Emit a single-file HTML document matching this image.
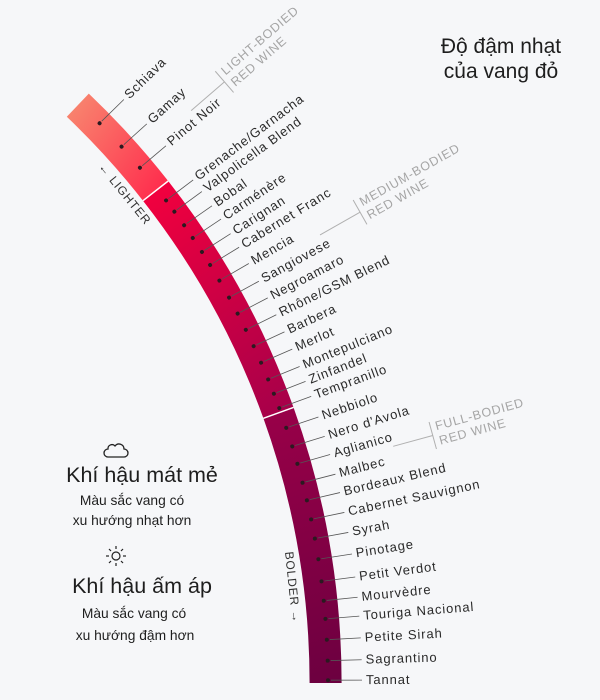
<!DOCTYPE html>
<html><head><meta charset="utf-8"><style>
html,body{margin:0;padding:0;background:#f6f7f9;}
svg{display:block;}
.lb{font-family:"Liberation Sans","Noto Sans CJK SC",sans-serif;font-size:13px;fill:#2a2a2a;letter-spacing:0.9px;}
.br{font-family:"Liberation Sans",sans-serif;font-size:12.5px;fill:#a5a5a5;letter-spacing:0.8px;}
.vt{font-family:"Liberation Sans","Noto Sans CJK SC",sans-serif;fill:#1e1e1e;}
</style></head><body>
<svg width="600" height="700" viewBox="0 0 600 700" xmlns="http://www.w3.org/2000/svg">
<defs>
<linearGradient id="g1" gradientUnits="userSpaceOnUse" x1="65" y1="110" x2="170" y2="185"><stop offset="0" stop-color="#f8866f"/><stop offset="1" stop-color="#ff2a4c"/></linearGradient>
<linearGradient id="g2" gradientUnits="userSpaceOnUse" x1="140" y1="190" x2="300" y2="410"><stop offset="0" stop-color="#f4003e"/><stop offset="1" stop-color="#a4004a"/></linearGradient>
<linearGradient id="g3" gradientUnits="userSpaceOnUse" x1="260" y1="420" x2="345" y2="680"><stop offset="0" stop-color="#980048"/><stop offset="1" stop-color="#6c0040"/></linearGradient>
</defs>
<rect width="600" height="700" fill="#f6f7f9"/>
<path d="M88.8 93.6 A813.6 813.6 0 0 1 168.2 181.0 L143.0 200.7 A781.6 781.6 0 0 0 66.8 116.8 Z" fill="url(#g1)"/>
<path d="M168.2 181.0 A813.6 813.6 0 0 1 293.5 407.4 L263.4 418.3 A781.6 781.6 0 0 0 143.0 200.7 Z" fill="url(#g2)"/>
<path d="M293.5 407.4 A813.6 813.6 0 0 1 341.6 683 L309.6 683 A781.6 781.6 0 0 0 263.4 418.3 Z" fill="url(#g3)"/>
<line x1="143.0" y1="200.7" x2="168.2" y2="181.0" stroke="#fff" stroke-width="1.5"/>
<line x1="263.4" y1="418.3" x2="293.5" y2="407.4" stroke="#fff" stroke-width="1.5"/>

<g id="labels">
<g transform="rotate(-44.4 -472 683)"><circle cx="328" cy="683" r="2" fill="#2a1a20"/><line x1="331" y1="683" x2="362" y2="683" stroke="#555" stroke-width="0.8"/><text class="lb" x="366" y="687">Schiava</text></g>
<g transform="rotate(-42.1 -472 683)"><circle cx="328" cy="683" r="2" fill="#2a1a20"/><line x1="331" y1="683" x2="362" y2="683" stroke="#555" stroke-width="0.8"/><text class="lb" x="366" y="687">Gamay</text></g>
<g transform="rotate(-40.1 -472 683)"><circle cx="328" cy="683" r="2" fill="#2a1a20"/><line x1="331" y1="683" x2="362" y2="683" stroke="#555" stroke-width="0.8"/><text class="lb" x="366" y="687">Pinot Noir</text></g>
<g transform="rotate(-37.1 -472 683)"><circle cx="328" cy="683" r="2" fill="#2a1a20"/><line x1="331" y1="683" x2="362" y2="683" stroke="#555" stroke-width="0.8"/><text class="lb" x="366" y="687">Grenache/Garnacha</text></g>
<g transform="rotate(-36.1 -472 683)"><circle cx="328" cy="683" r="2" fill="#2a1a20"/><line x1="331" y1="683" x2="362" y2="683" stroke="#555" stroke-width="0.8"/><text class="lb" x="366" y="687">Valpolicella Blend</text></g>
<g transform="rotate(-34.9 -472 683)"><circle cx="328" cy="683" r="2" fill="#2a1a20"/><line x1="331" y1="683" x2="362" y2="683" stroke="#555" stroke-width="0.8"/><text class="lb" x="366" y="687">Bobal</text></g>
<g transform="rotate(-33.8 -472 683)"><circle cx="328" cy="683" r="2" fill="#2a1a20"/><line x1="331" y1="683" x2="362" y2="683" stroke="#555" stroke-width="0.8"/><text class="lb" x="366" y="687">Carménère</text></g>
<g transform="rotate(-32.6 -472 683)"><circle cx="328" cy="683" r="2" fill="#2a1a20"/><line x1="331" y1="683" x2="362" y2="683" stroke="#555" stroke-width="0.8"/><text class="lb" x="366" y="687">Carignan</text></g>
<g transform="rotate(-31.5 -472 683)"><circle cx="328" cy="683" r="2" fill="#2a1a20"/><line x1="331" y1="683" x2="362" y2="683" stroke="#555" stroke-width="0.8"/><text class="lb" x="366" y="687">Cabernet Franc</text></g>
<g transform="rotate(-30.2 -472 683)"><circle cx="328" cy="683" r="2" fill="#2a1a20"/><line x1="331" y1="683" x2="362" y2="683" stroke="#555" stroke-width="0.8"/><text class="lb" x="366" y="687">Mencia</text></g>
<g transform="rotate(-28.8 -472 683)"><circle cx="328" cy="683" r="2" fill="#2a1a20"/><line x1="331" y1="683" x2="362" y2="683" stroke="#555" stroke-width="0.8"/><text class="lb" x="366" y="687">Sangiovese</text></g>
<g transform="rotate(-27.5 -472 683)"><circle cx="328" cy="683" r="2" fill="#2a1a20"/><line x1="331" y1="683" x2="362" y2="683" stroke="#555" stroke-width="0.8"/><text class="lb" x="366" y="687">Negroamaro</text></g>
<g transform="rotate(-26.2 -472 683)"><circle cx="328" cy="683" r="2" fill="#2a1a20"/><line x1="331" y1="683" x2="362" y2="683" stroke="#555" stroke-width="0.8"/><text class="lb" x="366" y="687">Rhône/GSM Blend</text></g>
<g transform="rotate(-24.9 -472 683)"><circle cx="328" cy="683" r="2" fill="#2a1a20"/><line x1="331" y1="683" x2="362" y2="683" stroke="#555" stroke-width="0.8"/><text class="lb" x="366" y="687">Barbera</text></g>
<g transform="rotate(-23.6 -472 683)"><circle cx="328" cy="683" r="2" fill="#2a1a20"/><line x1="331" y1="683" x2="362" y2="683" stroke="#555" stroke-width="0.8"/><text class="lb" x="366" y="687">Merlot</text></g>
<g transform="rotate(-22.3 -472 683)"><circle cx="328" cy="683" r="2" fill="#2a1a20"/><line x1="331" y1="683" x2="362" y2="683" stroke="#555" stroke-width="0.8"/><text class="lb" x="366" y="687">Montepulciano</text></g>
<g transform="rotate(-21.2 -472 683)"><circle cx="328" cy="683" r="2" fill="#2a1a20"/><line x1="331" y1="683" x2="362" y2="683" stroke="#555" stroke-width="0.8"/><text class="lb" x="366" y="687">Zinfandel</text></g>
<g transform="rotate(-20.1 -472 683)"><circle cx="328" cy="683" r="2" fill="#2a1a20"/><line x1="331" y1="683" x2="362" y2="683" stroke="#555" stroke-width="0.8"/><text class="lb" x="366" y="687">Tempranillo</text></g>
<g transform="rotate(-18.6 -472 683)"><circle cx="328" cy="683" r="2" fill="#2a1a20"/><line x1="331" y1="683" x2="362" y2="683" stroke="#555" stroke-width="0.8"/><text class="lb" x="366" y="687">Nebbiolo</text></g>
<g transform="rotate(-17.2 -472 683)"><circle cx="328" cy="683" r="2" fill="#2a1a20"/><line x1="331" y1="683" x2="362" y2="683" stroke="#555" stroke-width="0.8"/><text class="lb" x="366" y="687">Nero d'Avola</text></g>
<g transform="rotate(-15.9 -472 683)"><circle cx="328" cy="683" r="2" fill="#2a1a20"/><line x1="331" y1="683" x2="362" y2="683" stroke="#555" stroke-width="0.8"/><text class="lb" x="366" y="687">Aglianico</text></g>
<g transform="rotate(-14.5 -472 683)"><circle cx="328" cy="683" r="2" fill="#2a1a20"/><line x1="331" y1="683" x2="362" y2="683" stroke="#555" stroke-width="0.8"/><text class="lb" x="366" y="687">Malbec</text></g>
<g transform="rotate(-13.2 -472 683)"><circle cx="328" cy="683" r="2" fill="#2a1a20"/><line x1="331" y1="683" x2="362" y2="683" stroke="#555" stroke-width="0.8"/><text class="lb" x="366" y="687">Bordeaux Blend</text></g>
<g transform="rotate(-11.8 -472 683)"><circle cx="328" cy="683" r="2" fill="#2a1a20"/><line x1="331" y1="683" x2="362" y2="683" stroke="#555" stroke-width="0.8"/><text class="lb" x="366" y="687">Cabernet Sauvignon</text></g>
<g transform="rotate(-10.4 -472 683)"><circle cx="328" cy="683" r="2" fill="#2a1a20"/><line x1="331" y1="683" x2="362" y2="683" stroke="#555" stroke-width="0.8"/><text class="lb" x="366" y="687">Syrah</text></g>
<g transform="rotate(-8.9 -472 683)"><circle cx="328" cy="683" r="2" fill="#2a1a20"/><line x1="331" y1="683" x2="362" y2="683" stroke="#555" stroke-width="0.8"/><text class="lb" x="366" y="687">Pinotage</text></g>
<g transform="rotate(-7.3 -472 683)"><circle cx="328" cy="683" r="2" fill="#2a1a20"/><line x1="331" y1="683" x2="362" y2="683" stroke="#555" stroke-width="0.8"/><text class="lb" x="366" y="687">Petit Verdot</text></g>
<g transform="rotate(-5.9 -472 683)"><circle cx="328" cy="683" r="2" fill="#2a1a20"/><line x1="331" y1="683" x2="362" y2="683" stroke="#555" stroke-width="0.8"/><text class="lb" x="366" y="687">Mourvèdre</text></g>
<g transform="rotate(-4.6 -472 683)"><circle cx="328" cy="683" r="2" fill="#2a1a20"/><line x1="331" y1="683" x2="362" y2="683" stroke="#555" stroke-width="0.8"/><text class="lb" x="366" y="687">Touriga Nacional</text></g>
<g transform="rotate(-3.1 -472 683)"><circle cx="328" cy="683" r="2" fill="#2a1a20"/><line x1="331" y1="683" x2="362" y2="683" stroke="#555" stroke-width="0.8"/><text class="lb" x="366" y="687">Petite Sirah</text></g>
<g transform="rotate(-1.6 -472 683)"><circle cx="328" cy="683" r="2" fill="#2a1a20"/><line x1="331" y1="683" x2="362" y2="683" stroke="#555" stroke-width="0.8"/><text class="lb" x="366" y="687">Sagrantino</text></g>
<g transform="rotate(-0.2 -472 683)"><circle cx="328" cy="683" r="2" fill="#2a1a20"/><line x1="331" y1="683" x2="362" y2="683" stroke="#555" stroke-width="0.8"/><text class="lb" x="366" y="687">Tannat</text></g>
</g>

<!-- brackets -->
<g transform="rotate(-40.8 -472 683)" stroke="#b0b0b0" stroke-width="1"><line x1="404" y1="683" x2="448" y2="683"/><line x1="448" y1="669" x2="448" y2="697"/></g>
<g transform="rotate(-40.8 -472 683)"><text class="br" x="453" y="679">LIGHT-BODIED</text><text class="br" x="453" y="694">RED WINE</text></g>
<g transform="rotate(-29.5 -472 683)" stroke="#b0b0b0" stroke-width="1"><line x1="438" y1="683" x2="484" y2="683"/><line x1="484" y1="669" x2="484" y2="697"/></g>
<g transform="rotate(-29.5 -472 683)"><text class="br" x="489" y="679">MEDIUM-BODIED</text><text class="br" x="489" y="694">RED WINE</text></g>
<g transform="rotate(-15.3 -472 683)" stroke="#b0b0b0" stroke-width="1"><line x1="425" y1="683" x2="466" y2="683"/><line x1="466" y1="669" x2="466" y2="697"/></g>
<g transform="rotate(-15.3 -472 683)"><text class="br" x="471" y="679">FULL-BODIED</text><text class="br" x="471" y="694">RED WINE</text></g>

<!-- direction labels -->
<text class="lb" transform="translate(98,167) rotate(51)" style="font-size:12px;fill:#333">← LIGHTER</text>
<text class="lb" transform="translate(285,552) rotate(84)" style="font-size:12px;fill:#333">BOLDER →</text>

<!-- title -->
<text class="vt" x="501" y="53" text-anchor="middle" font-size="21">Độ đậm nhạt</text>
<text class="vt" x="501" y="78" text-anchor="middle" font-size="21">của vang đỏ</text>

<!-- cloud icon -->
<path d="M108 457 h16 a4 4 0 0 0 0-8 a5 5 0 0 0-9-3 a4 4 0 0 0-7 3 a4 4 0 0 0 0 8 z" fill="none" stroke="#222" stroke-width="1.3"/>
<text class="vt" x="142" y="482" text-anchor="middle" font-size="21.5">Khí hậu mát mẻ</text>
<text class="vt" x="132" y="505" text-anchor="middle" font-size="13.8">Màu sắc vang có</text>
<text class="vt" x="132" y="525" text-anchor="middle" font-size="13.8">xu hướng nhạt hơn</text>
<!-- sun icon -->
<g stroke="#222" stroke-width="1.2" fill="none"><circle cx="116" cy="556" r="4"/><line x1="116" y1="546" x2="116" y2="549"/><line x1="116" y1="563" x2="116" y2="566"/><line x1="106" y1="556" x2="109" y2="556"/><line x1="123" y1="556" x2="126" y2="556"/><line x1="109" y1="549" x2="111" y2="551"/><line x1="121" y1="561" x2="123" y2="563"/><line x1="123" y1="549" x2="121" y2="551"/><line x1="111" y1="561" x2="109" y2="563"/></g>
<text class="vt" x="142" y="593" text-anchor="middle" font-size="21.5">Khí hậu ấm áp</text>
<text class="vt" x="134" y="618" text-anchor="middle" font-size="13.8">Màu sắc vang có</text>
<text class="vt" x="135" y="640" text-anchor="middle" font-size="13.8">xu hướng đậm hơn</text>
</svg>
</body></html>
